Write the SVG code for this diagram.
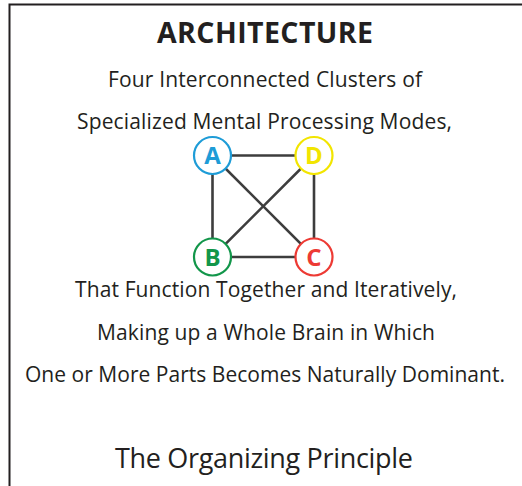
<svg xmlns="http://www.w3.org/2000/svg" width="522" height="486" viewBox="0 0 522 486">
<style>
.t{font-family:"Open Sans","Liberation Sans",sans-serif;fill:#231f20;text-anchor:middle}
.n{fill:#fff;stroke-width:2.2}
.l{font-family:"Open Sans","Liberation Sans",sans-serif;font-weight:bold;font-size:24px;text-anchor:middle}
.e{stroke:#3d3d3d;stroke-width:2.6;fill:none}
</style>
<rect width="522" height="486" fill="#fff"/>
<path d="M9.5,486 V4.5 H522" fill="none" stroke="#231f20" stroke-width="2"/>
<text class="t" x="265" y="43" font-size="28.5" font-weight="bold" textLength="216">ARCHITECTURE</text>
<text class="t" x="265" y="87" font-size="21" textLength="314">Four Interconnected Clusters of</text>
<text class="t" x="264.5" y="129" font-size="21" textLength="375">Specialized Mental Processing Modes,</text>
<g id="connectors">
<line class="e" x1="212.5" y1="155.5" x2="314" y2="155.5"/>
<line class="e" x1="212.5" y1="257" x2="314" y2="257"/>
<line class="e" x1="212.5" y1="155.5" x2="212.5" y2="257"/>
<line class="e" x1="314" y1="155.5" x2="314" y2="257"/>
<line class="e" x1="212.5" y1="155.5" x2="314" y2="257"/>
<line class="e" x1="314" y1="155.5" x2="212.5" y2="257"/>
</g>
<g id="node-A"><circle class="n" cx="212.5" cy="155.5" r="18.5" stroke="#1e9cd7"/><text class="l" x="212.5" y="164" fill="#1e9cd7">A</text></g>
<g id="node-D"><circle class="n" cx="314" cy="155.5" r="18.5" stroke="#f2e500"/><text class="l" x="314" y="164" fill="#f2e500">D</text></g>
<g id="node-B"><circle class="n" cx="212.5" cy="257" r="18.5" stroke="#12964a"/><text class="l" x="212.5" y="265.5" fill="#12964a">B</text></g>
<g id="node-C"><circle class="n" cx="314" cy="257" r="18.5" stroke="#ed3a34"/><text class="l" x="314" y="265.5" fill="#ed3a34">C</text></g>
<text class="t" x="266" y="297" font-size="21" textLength="382">That Function Together and Iteratively,</text>
<text class="t" x="266" y="340" font-size="21" textLength="338">Making up a Whole Brain in Which</text>
<text class="t" x="265" y="382" font-size="21" textLength="480">One or More Parts Becomes Naturally Dominant.</text>
<text class="t" x="264" y="468" font-size="27" textLength="298">The Organizing Principle</text>
</svg>
